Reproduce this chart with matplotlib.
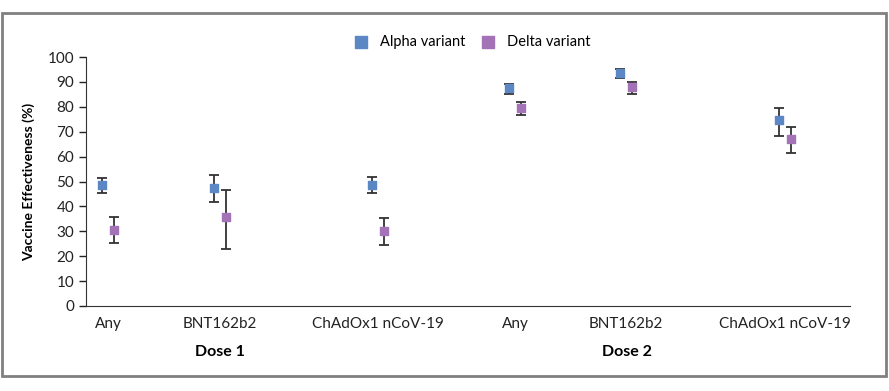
import numpy as np
import matplotlib.pyplot as plt
from matplotlib.patches import Rectangle

# Data
groups = ['Any', 'BNT162b2', 'ChAdOx1 nCoV-19', 'Any', 'BNT162b2', 'ChAdOx1 nCoV-19']
alpha_ve = [48.7, 47.5, 48.7, 87.5, 93.7, 74.5]
alpha_lo = [45.5, 41.6, 45.2, 85.3, 91.6, 68.4]
alpha_hi = [51.5, 52.5, 51.7, 89.1, 95.3, 79.4]
delta_ve = [30.7, 35.6, 30.0, 79.6, 88.0, 67.0]
delta_lo = [25.2, 22.7, 24.3, 76.7, 85.3, 61.3]
delta_hi = [35.7, 46.4, 35.3, 82.1, 90.1, 71.8]

blue = '#5b87c5'
purple = '#a473b7'

plt.rcParams['font.family'] = ['Lato', 'DejaVu Sans']

fig = plt.figure(figsize=(8.89, 3.91), dpi=100)
ax = fig.add_axes([0.0967, 0.2174, 0.8593, 0.6368])

# x positions of the categories (layout only)
xpos = np.array([108, 220, 378, 515, 626, 785])
off = 6

a = np.array(alpha_ve)
d = np.array(delta_ve)
a_err = [a - np.array(alpha_lo), np.array(alpha_hi) - a]
d_err = [d - np.array(delta_lo), np.array(delta_hi) - d]

ax.errorbar(xpos - off, a, yerr=a_err, fmt='none', ecolor='#333333',
            elinewidth=1.3, capsize=3.5, capthick=1.3, zorder=2)
ax.errorbar(xpos + off, d, yerr=d_err, fmt='none', ecolor='#333333',
            elinewidth=1.3, capsize=3.5, capthick=1.3, zorder=2)
ax.scatter(xpos - off, a, marker='s', s=34, color=blue, zorder=3,
           label='Alpha variant')
ax.scatter(xpos + off, d, marker='s', s=34, color=purple, zorder=3,
           label='Delta variant')

ax.set_xlim(86, 850)
ax.set_ylim(0, 100)
ax.set_yticks(np.arange(0, 101, 10))
ax.set_xticks(xpos)
ax.set_xticklabels(groups, fontsize=11, color='#222222')
ax.tick_params(axis='x', length=0, pad=8)
ax.tick_params(axis='y', length=5, width=1, labelsize=11, colors='#222222')
ax.spines['top'].set_visible(False)
ax.spines['right'].set_visible(False)
ax.spines['left'].set_color('#333333')
ax.spines['bottom'].set_color('#333333')
ax.set_ylabel('Vaccine Effectiveness (%)', fontsize=10, fontweight='bold',
              labelpad=9)

# Dose group labels
ax.text(220, -18.5, 'Dose 1', ha='center', va='center', fontsize=11.5,
        fontweight='bold', clip_on=False)
ax.text(627, -18.5, 'Dose 2', ha='center', va='center', fontsize=11.5,
        fontweight='bold', clip_on=False)

leg = fig.legend(loc='center', bbox_to_anchor=(0.527, 0.893), ncol=2,
                 frameon=False, fontsize=10.5, handletextpad=0.3,
                 columnspacing=0.6, markerscale=1.6)

# Outer frame
fig.patches.append(Rectangle((0.002, 0.038), 0.995, 0.928, transform=fig.transFigure,
                             fill=False, edgecolor='#808080', linewidth=2))

fig.savefig('out.png', dpi=100)
